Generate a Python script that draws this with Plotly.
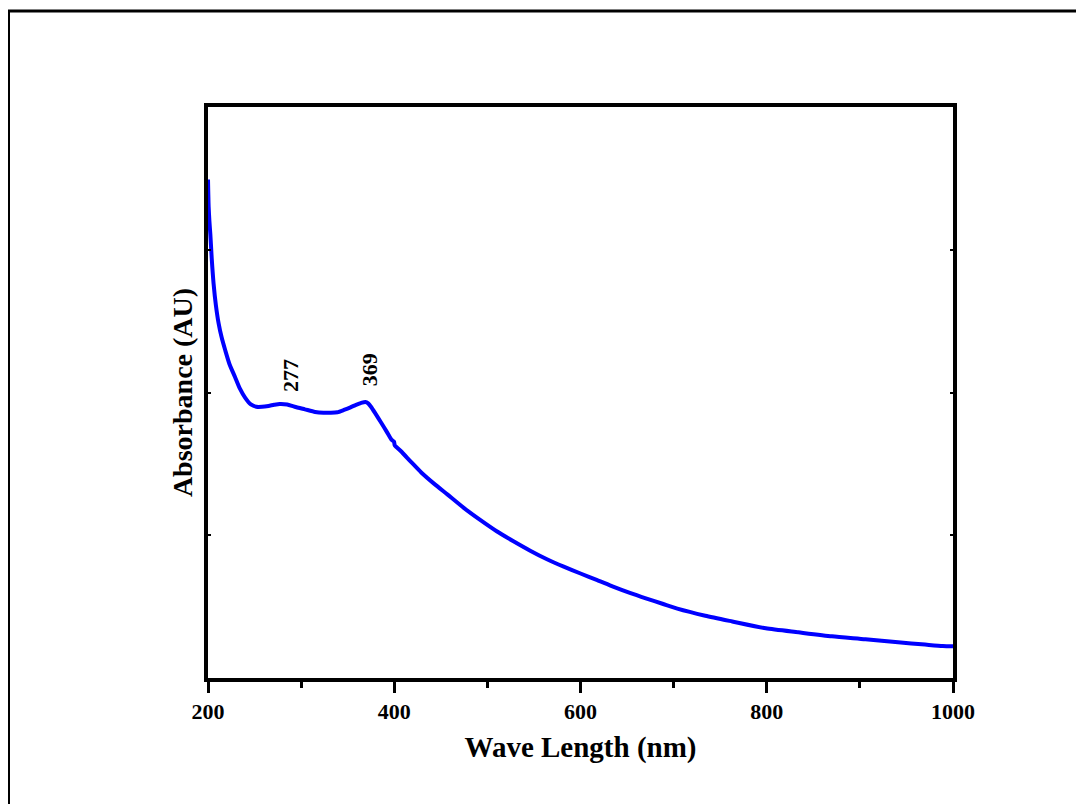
import plotly.graph_objects as go

# --- data ---
wavelength = [200, 200.7, 201.5, 202.5, 204, 206, 208.5, 211.4, 214.5, 218.5, 223, 229,
              234, 240, 246, 252, 258, 265, 271, 277, 285, 293, 304, 315, 324, 332,
              339, 346, 353, 359, 364, 369, 372, 375, 380, 386, 392, 397, 399.7,
              400.5, 402, 407, 418, 429, 443, 457, 475, 493, 510, 528, 546, 564,
              582, 600, 618, 635, 653, 671, 688, 704, 734, 763, 799, 834, 870,
              906, 941, 970, 989, 1000]
absorbance = [1.746, 1.650, 1.600, 1.555, 1.470, 1.381, 1.305, 1.242, 1.195, 1.148, 1.100, 1.054,
              1.015, 0.981, 0.958, 0.950, 0.950, 0.953, 0.957, 0.960, 0.958, 0.950, 0.941, 0.932, 0.929, 0.929,
              0.931, 0.939, 0.948, 0.957, 0.963, 0.967, 0.962, 0.950, 0.925, 0.894, 0.862, 0.835, 0.828,
              0.815, 0.810, 0.795, 0.757, 0.720, 0.680, 0.643, 0.595, 0.552, 0.514, 0.479, 0.446, 0.416,
              0.390, 0.366, 0.343, 0.320, 0.298, 0.278, 0.260, 0.243, 0.218, 0.198, 0.174, 0.160, 0.146,
              0.136, 0.125, 0.117, 0.112, 0.111]

peak_labels = ["277", "369"]
peak_x = [288, 373]
peak_y = [1.061, 1.078]

x_ticks = [200, 400, 600, 800, 1000]
x_minor = [300, 500, 700, 900]
y_ticks = [0.5, 1.0, 1.5]

FONT = "Liberation Serif, Times New Roman, serif"
W, H = 1084, 804
OFF = 8  # page body margin
L, R, T, B = 200, 139, 99, 134

fig = go.Figure()
fig.add_trace(go.Scatter(x=wavelength, y=absorbance, mode="lines",
                         line=dict(color="#0000FF", width=4, shape="spline", smoothing=0.6),
                         showlegend=False, hoverinfo="skip"))

for lab, px, py in zip(peak_labels, peak_x, peak_y):
    fig.add_annotation(x=px, y=py, text=lab, textangle=-90, showarrow=False,
                       font=dict(family=FONT, size=22, color="black", weight="bold"))

pw = W - L - R
ph = H - T - B
def px2paper(x):
    return (x - OFF - L) / pw
def py2paper(y):
    return (H - B - (y - OFF)) / ph

# outer frame
fig.add_shape(type="rect", xref="paper", yref="paper",
              x0=px2paper(8.5), x1=px2paper(1110), y0=py2paper(11), y1=py2paper(830),
              line=dict(color="black", width=3), fillcolor="rgba(0,0,0,0)", layer="above")

fig.update_layout(
    width=W, height=H,
    margin=dict(l=L, r=R, t=T, b=B, pad=0),
    paper_bgcolor="white", plot_bgcolor="white",
    font=dict(family=FONT, color="black"),
    xaxis=dict(range=[200, 1000], tickvals=x_ticks, ticktext=[str(v) for v in x_ticks],
               ticks="outside", ticklen=11, tickwidth=3, tickcolor="black",
               minor=dict(ticks="outside", ticklen=6, tickwidth=3, tickcolor="black",
                          tickvals=x_minor),
               showline=True, linewidth=4, linecolor="black", mirror=True,
               showgrid=False, zeroline=False,
               tickfont=dict(family=FONT, size=22, color="black", weight="bold"),
               title=dict(text="Wave Length (nm)", standoff=14,
                          font=dict(family=FONT, size=29, color="black", weight="bold"))),
    yaxis=dict(range=[0, 2], tickvals=y_ticks, showticklabels=False,
               ticks="inside", ticklen=3, tickwidth=2, tickcolor="black",
               showline=True, linewidth=4, linecolor="black", mirror="ticks",
               showgrid=False, zeroline=False,
               title=dict(text="Absorbance (AU)", standoff=4,
                          font=dict(family=FONT, size=28, color="black", weight="bold"))),
)

fig.write_html("out.html")
